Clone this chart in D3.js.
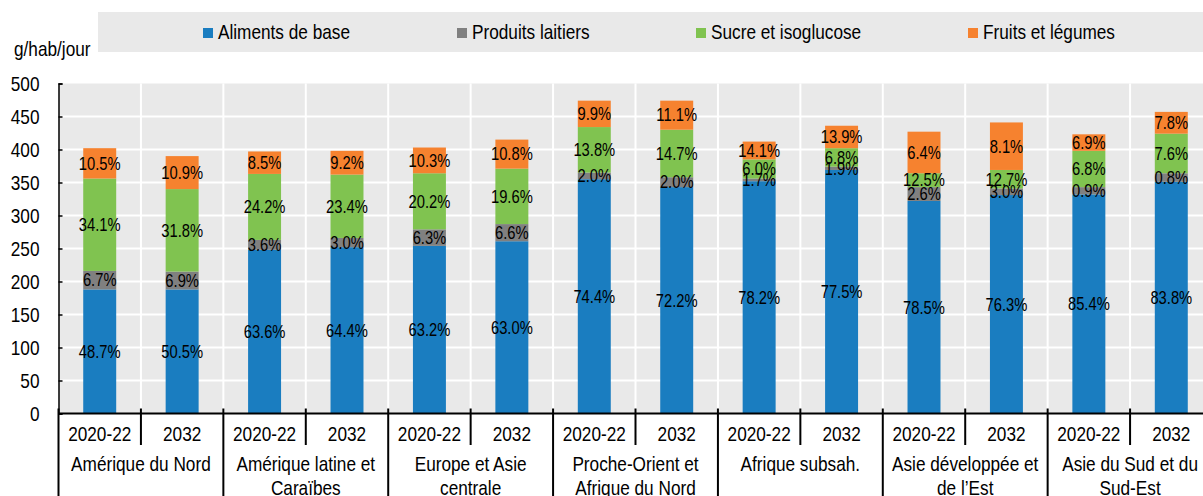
<!DOCTYPE html>
<meta charset="utf-8">
<style>
body{ margin:0; background:#fff; }
svg text{ font-family:"Liberation Sans",Arial,sans-serif; fill:#000; }
.grid line{ stroke:#fff; stroke-width:2px; }
.pct{ font-size:18px; text-anchor:middle; }
</style>
<body>
<script src="https://d3js.org/d3.v7.min.js"></script>
<script>

// ----- data -----
var regions = [
  ["Amérique du Nord"],
  ["Amérique latine et", "Caraïbes"],
  ["Europe et Asie", "centrale"],
  ["Proche-Orient et", "Afrique du Nord"],
  ["Afrique subsah."],
  ["Asie développée et", "de l’Est"],
  ["Asie du Sud et du", "Sud-Est"]
];
var periods = ["2020-22", "2032"];

var seriesNames = ["Aliments de base", "Produits laitiers", "Sucre et isoglucose", "Fruits et légumes"];
var colors = ["#1a7dc0", "#808080", "#80c350", "#f6822f"];

// g/hab/jour, one value per bar (region x period)
var aliments = [188, 188, 248, 252, 254, 261, 355, 343, 352, 369, 322, 331, 332, 351];
var laitiers = [28, 27, 15, 14, 25, 26, 10, 15, 4, 5, 21, 10, 11, 13];
var sucre    = [140, 125, 100, 96, 85, 84, 69, 72, 29, 28, 21, 28, 55, 60];
var fruits   = [46, 50, 34, 36, 39, 44, 40, 44, 27, 34, 63, 72, 25, 33];

// shares shown as labels
var pctAliments = ["48.7%","50.5%","63.6%","64.4%","63.2%","63.0%","74.4%","72.2%","78.2%","77.5%","78.5%","76.3%","85.4%","83.8%"];
var pctLaitiers = ["6.7%","6.9%","3.6%","3.0%","6.3%","6.6%","2.0%","2.0%","1.7%","1.9%","2.6%","3.0%","0.9%","0.8%"];
var pctSucre    = ["34.1%","31.8%","24.2%","23.4%","20.2%","19.6%","13.8%","14.7%","6.0%","6.8%","12.5%","12.7%","6.8%","7.6%"];
var pctFruits   = ["10.5%","10.9%","8.5%","9.2%","10.3%","10.8%","9.9%","11.1%","14.1%","13.9%","6.4%","8.1%","6.9%","7.8%"];

var yTicks = [0, 50, 100, 150, 200, 250, 300, 350, 400, 450, 500];

// ----- build table -----
var keys = ["a", "l", "s", "f"];
var rows = aliments.map(function(v, i){
  return {id: i, region: Math.floor(i / 2), period: periods[i % 2],
          a: v, l: laitiers[i], s: sucre[i], f: fruits[i],
          pct: [pctAliments[i], pctLaitiers[i], pctSucre[i], pctFruits[i]]};
});
var stacked = d3.stack().keys(keys)(rows);

var W = 1203, H = 496;
var mLeft = 58.5, mRight = 1212.5, mTop = 83.5, mBottom = 413.5;
var NARROW = 0.82; // condensed look of the original font

// place a text at (x,y) and squeeze it horizontally
function narrow(sel, fx, fy){
  sel.attr("transform", function(d, i){
    return "translate(" + fx(d, i) + "," + fy(d, i) + ") scale(" + NARROW + ",1)";
  });
}

var svg = d3.select("body").append("svg").attr("width", W).attr("height", H);

var x = d3.scaleBand().domain(rows.map(d => d.id)).range([mLeft, mRight]);
var xg = d3.scaleBand().domain(d3.range(regions.length)).range([mLeft, mRight]);
var y = d3.scaleLinear().domain([0, 500]).range([mBottom, mTop]);
var barW = x.step() * 0.4;

// legend
svg.append("rect").attr("x", 98).attr("y", 12).attr("width", W - 98).attr("height", 40).attr("fill", "#e9e9e9");
var legX = [203, 457, 696, 968];
var leg = svg.selectAll(".leg").data(seriesNames).enter().append("g")
  .attr("transform", (d, i) => "translate(" + legX[i] + ",0)");
leg.append("rect").attr("y", 28).attr("width", 10).attr("height", 10).attr("fill", (d, i) => colors[i]);
leg.append("text").style("font-size", "21px").text(d => d)
  .call(narrow, () => 15, () => 39);

svg.append("text").style("font-size", "21px").text("g/hab/jour")
  .call(narrow, () => 14, () => 56);

// plot background + grid
svg.append("rect").attr("x", mLeft).attr("y", mTop).attr("width", mRight - mLeft).attr("height", mBottom - mTop).attr("fill", "#e9e9e9");
var grid = svg.append("g").attr("class", "grid");
grid.selectAll(".h").data(yTicks.slice(1, -1)).enter().append("line")
  .attr("x1", mLeft).attr("x2", mRight).attr("y1", d => y(d)).attr("y2", d => y(d));
grid.selectAll(".v").data(rows.slice(1)).enter().append("line")
  .attr("x1", d => x(d.id)).attr("x2", d => x(d.id)).attr("y1", mTop).attr("y2", mBottom);

// bars
var layer = svg.selectAll(".layer").data(stacked).enter().append("g")
  .attr("fill", (d, i) => colors[i]);
layer.selectAll("rect").data(d => d).enter().append("rect")
  .attr("x", d => x(d.data.id) + (x.step() - barW) / 2)
  .attr("width", barW)
  .attr("y", d => y(d[1]))
  .attr("height", d => y(d[0]) - y(d[1]));

// percent labels
stacked.forEach(function(s, k){
  svg.append("g").selectAll("text").data(s).enter().append("text")
    .attr("class", "pct")
    .attr("dy", "0.35em")
    .text(d => d.data.pct[k])
    .call(narrow, d => x(d.data.id) + x.step() / 2, d => (y(d[0]) + y(d[1])) / 2);
});

// y axis
var yAxis = svg.append("g").attr("transform", "translate(" + mLeft + ",0)")
  .call(d3.axisLeft(y).tickValues(yTicks).tickSize(-4).tickPadding(0));
yAxis.select(".domain").attr("stroke", "#000").attr("stroke-width", 1.5);
yAxis.selectAll(".tick line").attr("stroke", "#000").attr("stroke-width", 1.5);
yAxis.selectAll(".tick text").attr("x", null).attr("dy", "0.35em").style("font-size", "21px").attr("fill", "#000")
  .attr("transform", "translate(-19,0) scale(" + NARROW + ",1)");

// x axis: two-level category axis
svg.append("line").attr("x1", mLeft).attr("x2", W).attr("y1", mBottom).attr("y2", mBottom)
  .attr("stroke", "#000").attr("stroke-width", 2);
svg.append("g").selectAll("line").data(rows.filter(d => d.id % 2 == 1)).enter().append("line")
  .attr("x1", d => x(d.id)).attr("x2", d => x(d.id)).attr("y1", mBottom - 5).attr("y2", 445)
  .attr("stroke", "#000").attr("stroke-width", 2);
svg.append("g").selectAll("line").data(d3.range(regions.length)).enter().append("line")
  .attr("x1", d => xg(d)).attr("x2", d => xg(d))
  .attr("y1", mBottom - 5).attr("y2", H)
  .attr("stroke", "#000").attr("stroke-width", 2);

svg.append("g").selectAll("text").data(rows).enter().append("text")
  .attr("text-anchor", "middle").style("font-size", "21px")
  .text(d => d.period)
  .call(narrow, d => x(d.id) + x.step() / 2, () => 440.5);

var gl = svg.append("g").selectAll("text").data(regions).enter().append("text")
  .attr("text-anchor", "middle").style("font-size", "21px")
  .call(narrow, (d, i) => xg(i) + xg.step() / 2, () => 471);
gl.selectAll("tspan").data(d => d).enter().append("tspan")
  .attr("x", 0)
  .attr("dy", (d, i) => i ? 24 : 0)
  .text(d => d);

</script>
</body>
</html>
